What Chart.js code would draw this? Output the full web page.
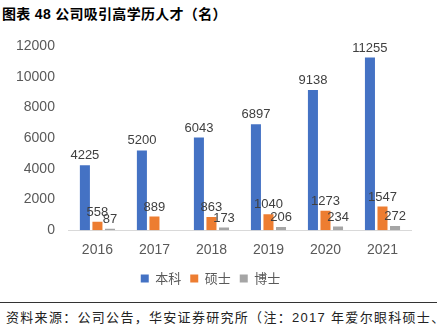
<!DOCTYPE html>
<html>
<head>
<meta charset="utf-8">
<script src="https://cdn.jsdelivr.net/npm/chart.js@4"></script>
<style>
body { margin: 0; background: #fff; width: 437px; height: 332px; overflow: hidden; position: relative; font-family: "Liberation Sans", "Noto Sans CJK SC", sans-serif; }
#title { position: absolute; left: 2px; top: 3px; font-size: 14px; font-weight: bold; color: #000; white-space: nowrap; letter-spacing: 0.3px; }
#wrap { position: absolute; left: 0; top: 28px; width: 437px; height: 267px; }
#line { position: absolute; left: 0; top: 302px; width: 437px; height: 1px; background: #333; }
#src { position: absolute; left: 6px; top: 307px; font-size: 13px; color: #222; white-space: nowrap; letter-spacing: 1.3px; }
</style>
</head>
<body>
<div id="title">图表 48 公司吸引高学历人才（名）</div>
<div id="wrap"><canvas id="talentChart"></canvas></div>
<div id="line"></div>
<div id="src">资料来源：公司公告，华安证券研究所（注：2017 年爱尔眼科硕士、</div>
<script>
const years = ['2016', '2017', '2018', '2019', '2020', '2021'];
const bachelor = [4225, 5200, 6043, 6897, 9138, 11255];
const master = [558, 889, 863, 1040, 1273, 1547];
const doctor = [87, null, 173, 206, 234, 272];

// draw value labels above each bar
const valueLabels = {
    id: 'valueLabels',
    afterDatasetsDraw(chart) {
        const ctx = chart.ctx;
        ctx.save();
        ctx.font = '13px "Liberation Sans", sans-serif';
        ctx.fillStyle = '#404040';
        ctx.textAlign = 'center';
        ctx.textBaseline = 'bottom';
        chart.data.datasets.forEach((ds, i) => {
            chart.getDatasetMeta(i).data.forEach((bar, j) => {
                if (ds.data[j] == null) return;
                ctx.fillText(ds.data[j], bar.x, bar.y - 3);
            });
        });
        ctx.restore();
    }
};

const ctxTalent = document.getElementById('talentChart').getContext('2d');
const talentChart = new Chart(ctxTalent, {
    type: 'bar',
    data: {
        labels: years,
        datasets: [
            { label: '本科', data: bachelor, backgroundColor: '#4472c4' },
            { label: '硕士', data: master, backgroundColor: '#ed7d31' },
            { label: '博士', data: doctor, backgroundColor: '#a5a5a5' }
        ]
    },
    options: {
        responsive: true,
        maintainAspectRatio: false,
        animation: false,
        datasets: { bar: { categoryPercentage: 0.66, barPercentage: 0.8 } },
        layout: { padding: { left: 10, right: 26, top: 18, bottom: 0 } },
        plugins: {
            legend: {
                position: 'bottom',
                labels: {
                    boxWidth: 8, boxHeight: 8, padding: 9, color: '#595959',
                    font: { size: 13, family: '"Noto Sans CJK SC", sans-serif' }
                }
            },
            tooltip: { enabled: false }
        },
        scales: {
            x: {
                grid: { display: false },
                border: { color: '#d9d9d9' },
                ticks: { color: '#595959', padding: 4, font: { size: 14, family: '"Liberation Sans", sans-serif' } }
            },
            y: {
                min: 0, max: 12000,
                ticks: {
                    stepSize: 2000, color: '#595959', padding: 6,
                    font: { size: 14, family: '"Liberation Sans", sans-serif' },
                    callback: (v) => String(v)
                },
                grid: { display: false },
                border: { display: false }
            }
        }
    },
    plugins: [valueLabels]
});
</script>
</body>
</html>
